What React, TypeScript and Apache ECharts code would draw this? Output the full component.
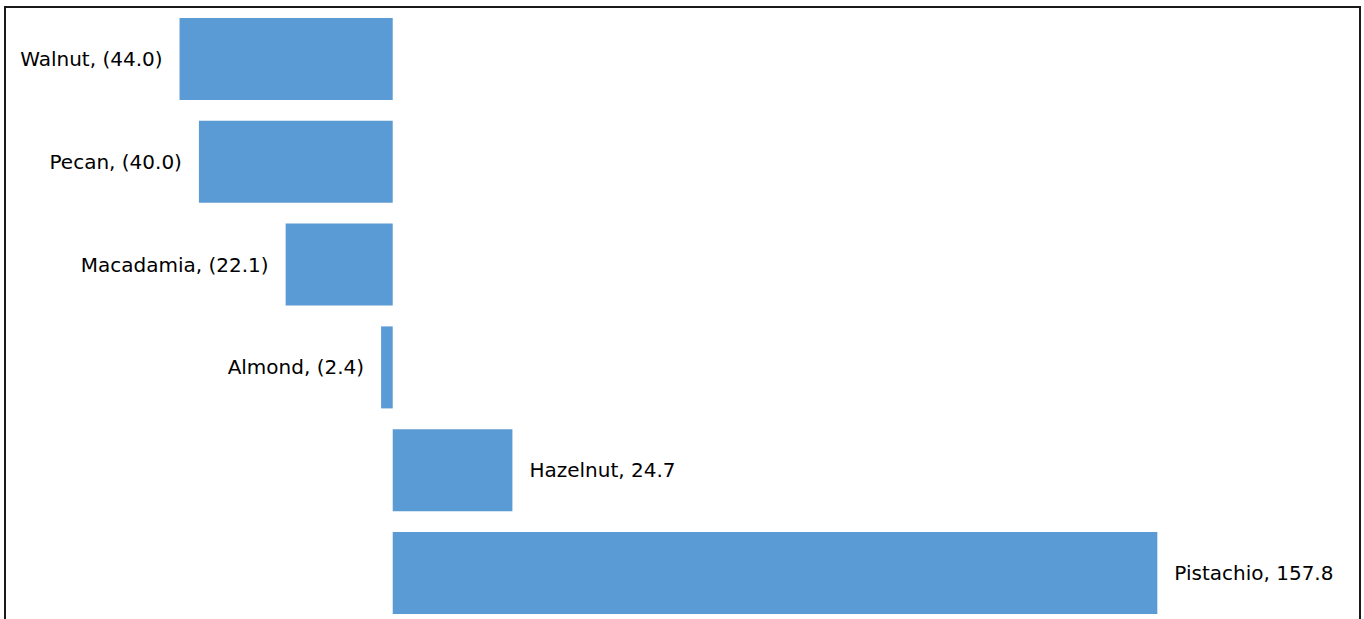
import React, { useEffect, useRef } from "react";
import * as echarts from "echarts";

const categories = ["Walnut", "Pecan", "Macadamia", "Almond", "Hazelnut", "Pistachio"];
const values = [-44.0, -40.0, -22.1, -2.4, 24.7, 157.8];

export default function App() {
  const ref = useRef<HTMLDivElement>(null);
  useEffect(() => {
    document.body.style.margin = "0";
    document.body.style.overflow = "hidden";
    const chart = echarts.init(ref.current!, null, { renderer: "svg" });
    const fmt = (v: number) => (v < 0 ? `(${Math.abs(v).toFixed(1)})` : v.toFixed(1));
    chart.setOption({
      animation: false,
      backgroundColor: "#ffffff",
      grid: { left: 5.1, width: 1356.7, top: 7.6, height: 616.8, containLabel: false },
      xAxis: {
        type: "value",
        min: -80,
        max: 200,
        show: false,
        splitLine: { show: false },
      },
      yAxis: {
        type: "category",
        data: categories,
        inverse: true,
        show: false,
      },
      graphic: [
        {
          type: "rect",
          shape: { x: 5, y: 7, width: 1355, height: 700 },
          style: { fill: "none", stroke: "#1a1a1a", lineWidth: 2 },
          z: 100,
        },
      ],
      series: [
        {
          type: "bar",
          barWidth: 82,
          itemStyle: { color: "#5B9BD5" },
          data: values.map((v, i) => ({
            value: v,
            label: {
              show: true,
              position: v < 0 ? "left" : "right",
              distance: 17,
              formatter: () => `${categories[i]}, ${fmt(v)}`,
              color: "#000000",
              fontFamily: "DejaVu Sans",
              fontSize: 20,
            },
          })),
        },
      ],
    });
    return () => chart.dispose();
  }, []);
  return <div ref={ref} style={{ width: 1364, height: 660 }} />;
}
